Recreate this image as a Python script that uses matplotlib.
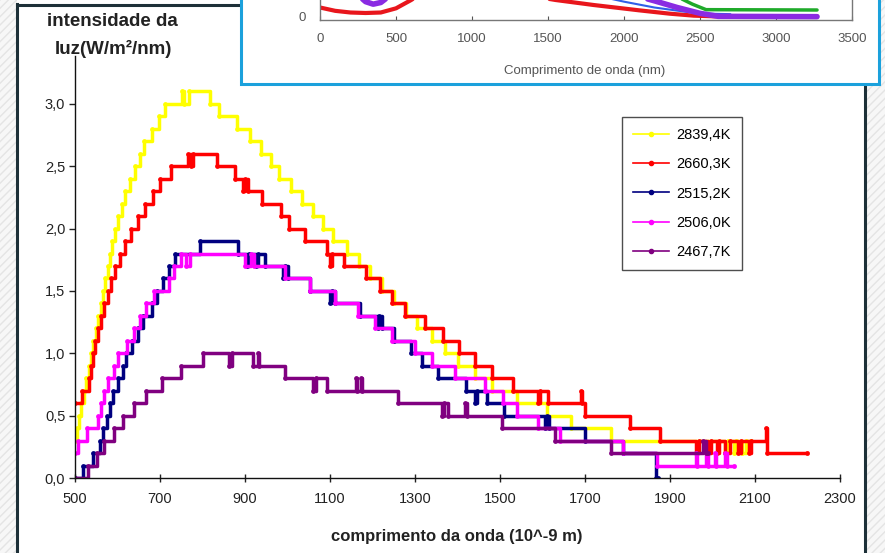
import matplotlib.pyplot as plt
from matplotlib.patches import Rectangle
from matplotlib.lines import Line2D
from matplotlib.ticker import FuncFormatter, MultipleLocator

plt.rcParams['font.family'] = ['Liberation Sans', 'DejaVu Sans']

# measured spectra: (wavelength nm, intensity W/m2/nm) at each step change
labels = ['2839,4K', '2660,3K', '2515,2K', '2506,0K', '2467,7K']
colors = ['#ffff00', '#ff0000', '#000080', '#ff00ff', '#800080']
x_ticks = [500, 700, 900, 1100, 1300, 1500, 1700, 1900, 2100, 2300]

yellow_steps = [
    (500, 0.3), (504, 0.4), (510, 0.5), (515, 0.6), (520, 0.7), (526, 0.8), (532, 0.9), (538, 1.0),
    (543, 1.1), (549, 1.2), (554, 1.3), (560, 1.4), (566, 1.5), (571, 1.6), (577, 1.7), (583, 1.8),
    (588, 1.9), (594, 2.0), (602, 2.1), (610, 2.2), (618, 2.3), (630, 2.4), (641, 2.5), (652, 2.6),
    (662, 2.7), (680, 2.8), (698, 2.9), (712, 3.0), (752, 3.1), (757, 3.0), (768, 3.1), (818, 3.0),
    (838, 2.9), (880, 2.8), (912, 2.7), (938, 2.6), (962, 2.5), (980, 2.4), (1008, 2.3), (1033, 2.2),
    (1060, 2.1), (1083, 2.0), (1106, 1.9), (1141, 1.8), (1168, 1.7), (1195, 1.6), (1222, 1.5),
    (1250, 1.4), (1278, 1.3), (1305, 1.2), (1340, 1.1), (1370, 1.0), (1400, 0.9), (1440, 0.8),
    (1480, 0.7), (1540, 0.6), (1610, 0.5), (1668, 0.4), (1760, 0.3), (2030, 0.2), (2036, 0.3),
    (2050, 0.2), (2056, 0.3), (2070, 0.2), (2078, 0.3), (2090, 0.3),
]
red_steps = [
    (500, 0.6), (516, 0.7), (534, 0.8), (538, 0.9), (542, 1.0), (547, 1.1), (553, 1.2), (560, 1.3),
    (568, 1.4), (577, 1.5), (585, 1.6), (594, 1.7), (606, 1.8), (618, 1.9), (632, 2.0), (648, 2.1),
    (664, 2.2), (683, 2.3), (700, 2.4), (727, 2.5), (765, 2.6), (772, 2.5), (778, 2.6), (834, 2.5),
    (876, 2.4), (896, 2.3), (900, 2.4), (906, 2.3), (940, 2.2), (985, 2.1), (1004, 2.0), (1041, 1.9),
    (1093, 1.8), (1100, 1.7), (1105, 1.8), (1133, 1.7), (1185, 1.6), (1218, 1.5), (1246, 1.4),
    (1277, 1.3), (1324, 1.2), (1366, 1.1), (1403, 1.0), (1441, 0.9), (1481, 0.8), (1531, 0.7),
    (1590, 0.6), (1595, 0.7), (1613, 0.6), (1690, 0.7), (1694, 0.6), (1700, 0.5), (1806, 0.4),
    (1876, 0.3), (1962, 0.2), (1968, 0.3), (1990, 0.2), (1996, 0.3), (2010, 0.2), (2016, 0.3),
    (2030, 0.2), (2040, 0.3), (2060, 0.2), (2066, 0.3), (2085, 0.2), (2090, 0.3), (2126, 0.4),
    (2129, 0.2), (2222, 0.2),
]
blue_steps = [
    (500, 0.0), (519, 0.1), (543, 0.2), (559, 0.3), (567, 0.4), (575, 0.5), (582, 0.6), (590, 0.7),
    (602, 0.8), (614, 0.9), (621, 1.0), (633, 1.1), (649, 1.2), (661, 1.3), (680, 1.4), (692, 1.5),
    (708, 1.6), (720, 1.7), (735, 1.8), (794, 1.9), (884, 1.8), (905, 1.7), (910, 1.8), (925, 1.7),
    (930, 1.8), (947, 1.7), (990, 1.6), (994, 1.7), (1000, 1.6), (1053, 1.5), (1100, 1.4),
    (1104, 1.5), (1112, 1.4), (1170, 1.3), (1212, 1.2), (1216, 1.3), (1222, 1.2), (1250, 1.1),
    (1290, 1.0), (1316, 0.9), (1355, 0.8), (1420, 0.7), (1440, 0.6), (1445, 0.7), (1470, 0.6),
    (1510, 0.5), (1605, 0.4), (1610, 0.5), (1616, 0.4), (1700, 0.3), (1790, 0.2), (1866, 0.0),
    (1872, 0.0),
]
magenta_steps = [
    (500, 0.2), (508, 0.3), (528, 0.4), (553, 0.5), (560, 0.6), (568, 0.7), (578, 0.8), (592, 0.9),
    (602, 1.0), (622, 1.1), (638, 1.2), (652, 1.3), (668, 1.4), (686, 1.5), (720, 1.6), (733, 1.7),
    (750, 1.8), (760, 1.7), (770, 1.8), (900, 1.7), (915, 1.8), (920, 1.7), (994, 1.6), (1053, 1.5),
    (1112, 1.4), (1167, 1.3), (1206, 1.2), (1245, 1.1), (1300, 1.0), (1339, 0.9), (1394, 0.8),
    (1465, 0.7), (1506, 0.6), (1539, 0.5), (1590, 0.4), (1640, 0.3), (1790, 0.2), (1869, 0.1),
    (1960, 0.2), (1964, 0.1), (1985, 0.2), (1989, 0.1), (2005, 0.2), (2009, 0.1), (2030, 0.2),
    (2034, 0.1), (2050, 0.1),
]
purple_steps = [
    (500, 0.0), (530, 0.1), (552, 0.2), (568, 0.3), (592, 0.4), (614, 0.5), (638, 0.6), (666, 0.7),
    (704, 0.8), (750, 0.9), (802, 1.0), (862, 0.9), (870, 1.0), (918, 0.9), (930, 1.0), (934, 0.9),
    (994, 0.8), (1060, 0.7), (1066, 0.8), (1092, 0.7), (1160, 0.8), (1164, 0.7), (1172, 0.8),
    (1176, 0.7), (1261, 0.6), (1363, 0.5), (1368, 0.6), (1378, 0.5), (1418, 0.6), (1422, 0.5),
    (1504, 0.4), (1629, 0.3), (1760, 0.2), (1978, 0.3), (1984, 0.2), (1990, 0.2),
]
series = [yellow_steps, red_steps, blue_steps, magenta_steps, purple_steps]

# small pasted chart (top right): wavelength nm, relative intensity
inset_ticks = [0, 500, 1000, 1500, 2000, 2500, 3000, 3500]
inset_red_a = [(0, 0.55), (100, 0.35), (200, 0.25), (300, 0.22), (400, 0.25), (500, 0.5), (600, 1.0), (650, 1.3)]
inset_red_b = [(1450, 1.15), (1550, 1.0), (1800, 0.7), (2100, 0.38), (2300, 0.18), (2460, 0.06), (2600, 0.02), (3270, 0.02)]
inset_purple_a = [(250, 1.3), (300, 0.9), (350, 0.75), (400, 0.85), (450, 1.2)]
inset_purple_b = [(2100, 1.2), (2200, 0.95), (2350, 0.55), (2500, 0.2), (2620, 0.02), (3270, 0.0)]
inset_blue_b = [(1900, 1.1), (2000, 0.9), (2200, 0.55), (2400, 0.3), (2550, 0.18), (2700, 0.15)]
inset_green_b = [(2350, 1.2), (2450, 0.75), (2540, 0.42), (3270, 0.4)]

W, H = 885, 553


def fx(px):
    return px / W


def fy(py):
    return 1 - py / H


fig = plt.figure(figsize=(W / 100, H / 100), dpi=100)
fig.patch.set_facecolor('white')

# textured slide background at the edges
for x0, x1 in [(0, 17), (865, W)]:
    fig.patches.append(Rectangle((fx(x0), 0), fx(x1) - fx(x0), 1, transform=fig.transFigure,
                                 facecolor='#f7f7f7', edgecolor='#e4e4e4', hatch='////', lw=0, zorder=-5))

# dark slide frame
frame = dict(transform=fig.transFigure, color='#1d3038', lw=2.2, zorder=4)
fig.add_artist(Line2D([fx(17), fx(17)], [fy(4), 0], **frame))
fig.add_artist(Line2D([fx(17), fx(245)], [fy(5), fy(5)], **frame))
fig.add_artist(Line2D([fx(865), fx(865)], [fy(84), 0], **frame))

# main chart
ax = fig.add_axes([fx(75), fy(478), fx(840) - fx(75), fy(56) - fy(478)])
for steps, c, lab in zip(series, colors, labels):
    nm, lv = zip(*steps)
    ax.plot(nm, lv, drawstyle='steps-post', color=c, lw=2.5, marker='o', ms=2.4, label=lab)

ax.set_xlim(500, 2300)
ax.set_ylim(0, 3.384)
ax.set_xticks(x_ticks)
ax.yaxis.set_major_locator(MultipleLocator(0.5))
ax.yaxis.set_major_formatter(FuncFormatter(lambda v, p: f'{v:.1f}'.replace('.', ',')))
for s in ['top', 'right']:
    ax.spines[s].set_visible(False)
for s in ['left', 'bottom']:
    ax.spines[s].set_color('#111111')
    ax.spines[s].set_linewidth(1.0)
ax.tick_params(axis='y', direction='out', length=4, width=1, pad=3, labelsize=10.5, colors='#222222')
ax.tick_params(axis='x', direction='inout', length=6, width=1, pad=7, labelsize=10.5, colors='#222222')

leg = ax.legend(loc='upper left', bbox_to_anchor=(fx(622), fy(117)), bbox_transform=fig.transFigure,
                borderaxespad=0, frameon=True, fancybox=False, fontsize=10.5, handlelength=2.5,
                handletextpad=0.5, labelspacing=1.05, borderpad=0.75)
leg.get_frame().set_edgecolor('#222222')
leg.get_frame().set_linewidth(1.0)
for h in leg.legend_handles:
    h.set_linewidth(1.2)
    h.set_markersize(3)

fig.text(fx(112), fy(21), 'intensidade da', ha='center', va='center', fontsize=13.5,
         fontweight='bold', color='#222222')
fig.text(fx(113), fy(49), 'luz(W/m²/nm)', ha='center', va='center', fontsize=13.5,
         fontweight='bold', color='#222222')
fig.text(fx(457), fy(537), 'comprimento da onda (10^-9 m)', ha='center', va='center',
         fontsize=12, fontweight='bold', color='#222222')

# pasted chart with blue border, top right
fig.patches.append(Rectangle((fx(241), fy(84)), fx(879) - fx(241), fy(-6) - fy(84),
                             transform=fig.transFigure, facecolor='white', edgecolor='#1ba1dc',
                             lw=2.2, zorder=5))
iax = fig.add_axes([fx(320), fy(20), fx(852) - fx(320), fy(0) - fy(20)], zorder=6)
iax.set_facecolor('white')
inset_lines = [
    (inset_red_a, '#e8161c', 3.0), (inset_red_b, '#e8161c', 3.0),
    (inset_blue_b, '#2f5fe8', 1.5), (inset_green_b, '#1faa2a', 2.5),
    (inset_purple_a, '#8a2be2', 4.0), (inset_purple_b, '#8a2be2', 4.0),
]
for pts, c, w in inset_lines:
    nm, v = zip(*pts)
    iax.plot(nm, v, color=c, lw=w, solid_capstyle='round')
iax.set_xlim(0, 3500)
iax.set_ylim(-0.2, 1.0)
iax.set_xticks(inset_ticks)
iax.set_yticks([0])
iax.spines['top'].set_visible(False)
for s in ['left', 'right', 'bottom']:
    iax.spines[s].set_color('#777777')
    iax.spines[s].set_linewidth(1.0)
iax.tick_params(axis='x', direction='in', length=3, pad=9, labelsize=9.5, colors='#555555')
iax.tick_params(axis='y', length=0, pad=10, labelsize=9.5, colors='#555555')
fig.text(fx(585), fy(71), 'Comprimento de onda (nm)', ha='center', va='center', fontsize=9.5,
         color='#555555', zorder=7)

fig.savefig('out.png', dpi=100)
